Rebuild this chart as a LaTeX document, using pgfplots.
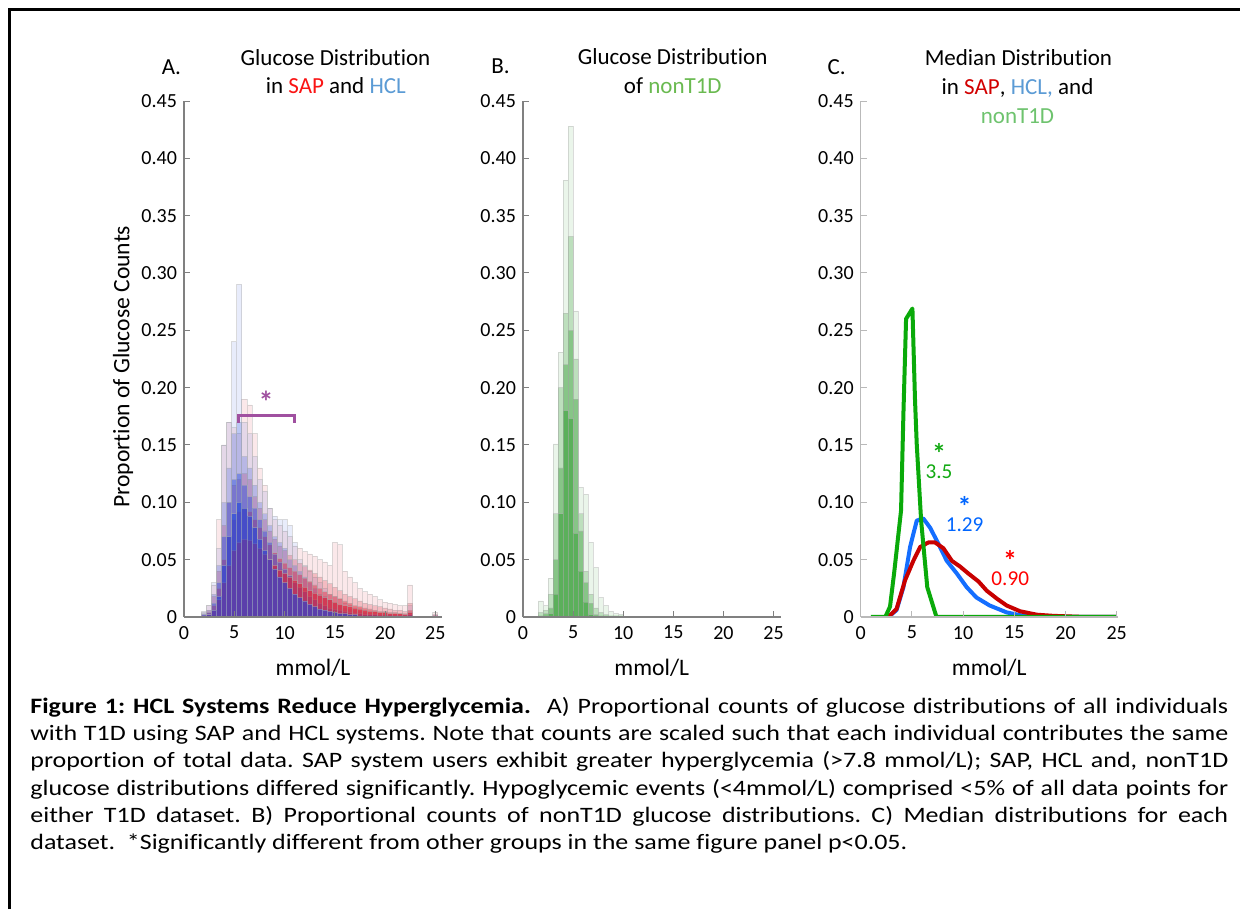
\documentclass[border=0pt]{standalone}
\usepackage{pgfplots}
\pgfplotsset{compat=1.18}
\usepackage{pgfplotstable}
\usepackage{fontspec}
\setmainfont{Carlito}[Ligatures=NoCommon]
\newfontfamily\capfont{Carlito}[FakeStretch=1.18,Ligatures=NoCommon]

\definecolor{sapA}{RGB}{250,20,20}
\definecolor{hclA}{RGB}{91,155,213}
\definecolor{nonB}{RGB}{106,186,80}
\definecolor{sapC}{RGB}{210,0,0}
\definecolor{nonC}{RGB}{110,195,110}
\definecolor{histRed}{RGB}{220,30,50}
\definecolor{histBlue}{RGB}{30,70,220}
\definecolor{histGreen}{RGB}{55,160,55}
\definecolor{brk}{RGB}{160,80,160}
\definecolor{curveG}{RGB}{10,170,10}
\definecolor{curveB}{RGB}{20,110,255}
\definecolor{curveR}{RGB}{200,0,0}
\definecolor{annG}{RGB}{20,170,20}
\definecolor{annB}{RGB}{0,102,255}
\definecolor{annR}{RGB}{255,0,0}
\definecolor{axgray}{RGB}{128,128,128}

% Panel A: envelopes of the individual SAP (r) and HCL (b) histograms
\pgfplotstableread{
x     r1     r2     r3     r4     b1     b2     b3     b4
2.0   0.004  0.002  0.001  0.001  0.005  0.003  0.002  0.001
2.5   0.010  0.006  0.004  0.002  0.010  0.006  0.004  0.002
3.0   0.028  0.018  0.010  0.006  0.030  0.020  0.012  0.006
3.5   0.085  0.040  0.025  0.015  0.060  0.045  0.030  0.018
4.0   0.150  0.080  0.050  0.030  0.150  0.100  0.070  0.045
4.5   0.170  0.100  0.070  0.045  0.170  0.130  0.100  0.070
5.0   0.165  0.115  0.085  0.058  0.240  0.160  0.120  0.090
5.5   0.160  0.120  0.092  0.065  0.290  0.170  0.125  0.100
6.0   0.190  0.125  0.095  0.068  0.170  0.140  0.115  0.095
6.5   0.185  0.120  0.092  0.067  0.160  0.130  0.105  0.088
7.0   0.160  0.105  0.085  0.064  0.140  0.115  0.095  0.078
7.5   0.130  0.095  0.078  0.060  0.120  0.100  0.085  0.068
8.0   0.115  0.085  0.070  0.055  0.110  0.090  0.075  0.058
8.5   0.095  0.075  0.063  0.050  0.095  0.080  0.065  0.050
9.0   0.085  0.068  0.056  0.045  0.088  0.070  0.055  0.042
9.5   0.080  0.062  0.051  0.041  0.085  0.065  0.048  0.035
10.0  0.075  0.058  0.047  0.038  0.085  0.060  0.042  0.030
10.5  0.070  0.054  0.043  0.035  0.080  0.050  0.036  0.025
11.0  0.062  0.050  0.040  0.032  0.065  0.045  0.030  0.020
11.5  0.060  0.047  0.037  0.029  0.050  0.040  0.026  0.017
12.0  0.057  0.044  0.034  0.026  0.045  0.035  0.022  0.014
12.5  0.055  0.041  0.031  0.023  0.040  0.030  0.018  0.011
13.0  0.053  0.038  0.028  0.021  0.035  0.025  0.015  0.009
13.5  0.050  0.035  0.025  0.019  0.030  0.020  0.012  0.007
14.0  0.048  0.032  0.022  0.017  0.025  0.018  0.010  0.006
14.5  0.045  0.029  0.020  0.015  0.020  0.015  0.008  0.005
15.0  0.065  0.026  0.018  0.013  0.018  0.012  0.007  0.004
15.5  0.063  0.023  0.016  0.011  0.015  0.010  0.006  0.003
16.0  0.040  0.020  0.014  0.010  0.012  0.008  0.005  0.003
16.5  0.035  0.018  0.012  0.009  0.010  0.007  0.004  0.002
17.0  0.030  0.016  0.010  0.008  0.008  0.006  0.003  0.002
17.5  0.025  0.014  0.009  0.007  0.007  0.005  0.003  0.001
18.0  0.022  0.012  0.008  0.006  0.006  0.004  0.002  0.001
18.5  0.020  0.011  0.007  0.005  0.005  0.003  0.002  0.001
19.0  0.018  0.010  0.006  0.005  0.004  0.003  0.002  0.001
19.5  0.015  0.009  0.005  0.004  0.003  0.002  0.001  0.001
20.0  0.013  0.008  0.005  0.004  0.003  0.002  0.001  0.001
20.5  0.012  0.007  0.004  0.003  0.002  0.002  0.001  0.001
21.0  0.011  0.006  0.004  0.003  0.002  0.001  0.001  0.001
21.5  0.010  0.006  0.003  0.003  0.002  0.001  0.001  0.001
22.0  0.010  0.005  0.003  0.002  0.002  0.001  0.001  0.001
22.5  0.028  0.012  0.006  0.004  0.010  0.004  0.002  0.001
25.0  0.004  0.002  0.001  0.001  0.001  0.001  0.001  0.001
}\histA

% Panel B: envelopes of the individual nonT1D histograms
\pgfplotstableread{
x     g1     g2     g3     g4
1.75  0.014  0.004  0.001  0.001
2.25  0.010  0.006  0.003  0.001
2.75  0.034  0.020  0.008  0.003
3.25  0.151  0.090  0.050  0.020
3.75  0.231  0.200  0.130  0.090
4.25  0.381  0.265  0.220  0.180
4.75  0.428  0.332  0.250  0.173
5.25  0.267  0.225  0.190  0.073
5.75  0.113  0.090  0.075  0.040
6.25  0.107  0.040  0.030  0.013
6.75  0.065  0.020  0.012  0.002
7.25  0.043  0.008  0.002  0.001
7.75  0.017  0.004  0.001  0.001
8.25  0.010  0.002  0.001  0.001
8.75  0.005  0.001  0.001  0.001
9.25  0.003  0.001  0.001  0.001
9.75  0.002  0.001  0.001  0.001
}\histB

\pgfplotsset{
  panel/.style={
    scale only axis, height=258pt, ymin=0, ymax=0.45, xmin=0,
    axis lines*=left, tick align=inside, major tick length=3pt,
    axis on top,
    axis line style={draw=axgray, line width=0.6pt},
    tick style={draw=axgray, line width=0.5pt},
    ytick={0,0.05,0.1,0.15,0.2,0.25,0.3,0.35,0.4,0.45},
    yticklabels={0,0.05,0.10,0.15,0.20,0.25,0.30,0.35,0.40,0.45},
    xtick={0,5,10,15,20,25},
    xticklabels={0,5,10,15,20,25},
    ticklabel style={font=\fontsize{10}{12}\selectfont, text=black},
    xticklabel style={yshift=-1pt},
    xlabel={mmol/L},
    x label style={at={(axis description cs:0.5,-0.0988)}, anchor=center,
      font=\fontsize{11.8}{14}\selectfont},
  },
  hbar/.style={ybar, bar width=0.5, bar shift=0pt, draw=gray!60,
    line width=0.3pt, draw opacity=0.45},
}
\tikzset{ann/.style={inner sep=0pt, anchor=south, align=center,
    font=\fontsize{10.6}{7.5}\selectfont}}
\newcommand{\sigstar}{{\bfseries\fontsize{14}{7.5}\selectfont *}}

\begin{document}
\begin{tikzpicture}
\useasboundingbox (0,0) rectangle (620pt,454.5pt);
\fill[white] (0,0) rectangle (620pt,454.5pt);
\draw[line width=1.2pt] (4.65pt,0pt) -- (4.65pt,449.75pt) -- (620pt,449.75pt);

% ---------------- Panel A ----------------
\begin{axis}[panel, at={(92pt,146pt)}, anchor=south west, width=129pt, xmax=25.67,
  ylabel={Proportion of Glucose Counts},
  y label style={at={(axis description cs:-0.236,0.485)}, anchor=center,
    font=\fontsize{11.8}{14}\selectfont}]
\addplot[hbar, fill=histRed,  fill opacity=0.10] table[x=x,y=r1]{\histA};
\addplot[hbar, fill=histBlue, fill opacity=0.10] table[x=x,y=b1]{\histA};
\addplot[hbar, fill=histRed,  fill opacity=0.22] table[x=x,y=r2]{\histA};
\addplot[hbar, fill=histBlue, fill opacity=0.22] table[x=x,y=b2]{\histA};
\addplot[hbar, fill=histRed,  fill opacity=0.40] table[x=x,y=r3]{\histA};
\addplot[hbar, fill=histBlue, fill opacity=0.40] table[x=x,y=b3]{\histA};
\addplot[hbar, fill=histRed,  fill opacity=0.60] table[x=x,y=r4]{\histA};
\addplot[hbar, fill=histBlue, fill opacity=0.60] table[x=x,y=b4]{\histA};
\addplot[brk, line width=1.5pt] coordinates {(5.47,0.169) (5.47,0.176) (10.95,0.176) (10.95,0.169)};
\node[text=brk, font=\bfseries\fontsize{15}{15}\selectfont, inner sep=0pt, anchor=base] at (axis cs:8.16,0.178) {*};
\end{axis}

% ---------------- Panel B ----------------
\begin{axis}[panel, at={(261.5pt,146pt)}, anchor=south west, width=128.5pt, xmax=25.7]
\addplot[hbar, fill=histGreen, fill opacity=0.10] table[x=x,y=g1]{\histB};
\addplot[hbar, fill=histGreen, fill opacity=0.25] table[x=x,y=g2]{\histB};
\addplot[hbar, fill=histGreen, fill opacity=0.40] table[x=x,y=g3]{\histB};
\addplot[hbar, fill=histGreen, fill opacity=0.55] table[x=x,y=g4]{\histB};
\end{axis}

% ---------------- Panel C ----------------
\begin{axis}[panel, at={(430.35pt,146pt)}, anchor=south west, width=128.5pt, xmax=25.1,
  axis line style={draw=gray!55, line width=0.6pt}, tick style={draw=gray!55}]
\addplot[curveB, line width=2pt, line join=round] coordinates {
 (2.7,0) (3.5,0.006) (4.17,0.026) (4.82,0.061) (5.47,0.084) (6.1,0.086) (6.77,0.078)
 (7.58,0.064) (8.4,0.049) (9.38,0.038) (10.35,0.026) (11.3,0.017) (12.6,0.010)
 (14.26,0.004) (15.6,0.0015) (17.2,0) (25,0)};
\addplot[curveR, line width=2pt, line join=round] coordinates {
 (2.7,0) (3.5,0.007) (4.33,0.032) (5.14,0.049) (5.8,0.061) (6.6,0.065) (7.26,0.065)
 (8.07,0.060) (8.9,0.049) (9.7,0.044) (10.5,0.038) (11.5,0.031) (12.3,0.023)
 (13.3,0.016) (14.26,0.010) (15.56,0.005) (17.2,0.002) (18.8,0.001) (22,0) (25,0)};
\addplot[curveG, line width=2pt, line join=round] coordinates {
 (1.0,0) (2.4,0) (2.86,0.009) (3.26,0.038) (3.94,0.093) (4.17,0.177) (4.43,0.26)
 (5.05,0.269) (5.3,0.19) (5.47,0.151) (5.9,0.084) (6.5,0.026) (7.4,0) (25,0)};
\node[ann, text=annG] at (axis cs:7.65,0.1207) {\sigstar\\3.5};
\node[ann, text=annB] at (axis cs:10.15,0.0741) {\sigstar\\1.29};
\node[ann, text=annR] at (axis cs:14.6,0.0268) {\sigstar\\0.90};
\end{axis}

% ---------------- Titles ----------------
\begin{scope}[every node/.style={font=\fontsize{11.5}{13}\selectfont, anchor=base, inner sep=0pt}]
\node at (85.7pt,417.3pt) {A.};
\node at (167.75pt,421.8pt) {Glucose Distribution};
\node at (167.9pt,407.5pt) {in \textcolor{sapA}{SAP} and \textcolor{hclA}{HCL}};
\node at (250.2pt,417.8pt) {B.};
\node at (336.3pt,422pt) {Glucose Distribution};
\node at (336.4pt,407.5pt) {of \textcolor{nonB}{nonT1D}};
\node at (418.3pt,417pt) {C.};
\node at (509.2pt,421.7pt) {Median Distribution};
\node at (508.75pt,407pt) {in \textcolor{sapC}{SAP}, \textcolor{hclA}{HCL,} and};
\node at (508.75pt,392.5pt) {\textcolor{nonC}{nonT1D}};
\end{scope}

% ---------------- Caption ----------------
\node[anchor=north west, inner sep=0pt, text width=599pt, align=justify,
  font=\capfont\fontsize{11}{13.65}\selectfont\frenchspacing] at (15pt,106.1pt) {%
\textbf{Figure 1: HCL Systems Reduce Hyperglycemia.}\ \ A) Proportional counts of glucose distributions of all individuals\linebreak
with T1D using SAP and HCL systems. Note that counts are scaled such that each individual contributes the same\linebreak
proportion of total data. SAP system users exhibit greater hyperglycemia (>7.8 mmol/L); SAP, HCL and, nonT1D\linebreak
glucose distributions differed significantly. Hypoglycemic events (<4mmol/L) comprised <5\% of all data points for\linebreak
either T1D dataset. B) Proportional counts of nonT1D glucose distributions. C) Median distributions for each\linebreak
dataset.\ \ *Significantly different from other groups in the same figure panel p<0.05.};
\end{tikzpicture}
\end{document}
